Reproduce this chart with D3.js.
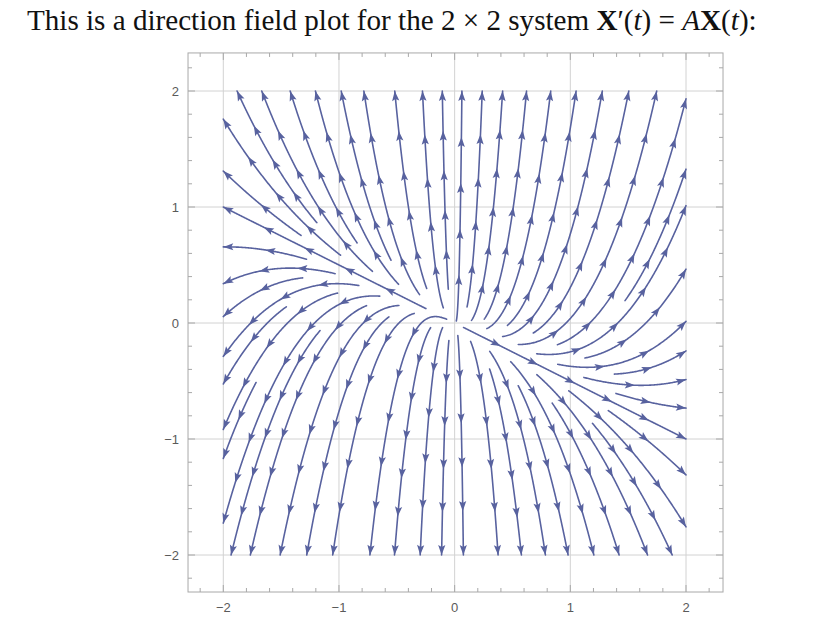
<!DOCTYPE html>
<html><head><meta charset="utf-8">
<script src="https://cdn.jsdelivr.net/npm/d3@7"></script>
<style>body{margin:0;background:#fff}svg{display:block}</style>
</head><body>
<script>
// ---- data ----
const matrixA = [[1, 0], [1, 3]];          // X'(t) = A X(t)
const fieldRange = [-2, 2];                 // region covered by streamlines
const plotRangeX = [-2.305, 2.32];
const plotRangeY = [-2.319, 2.328];
const majorTicks = [-2, -1, 0, 1, 2];
const tickLabels = ["\u22122", "\u22121", "0", "1", "2"];
const minorTicks = [-2.2, -1.8, -1.6, -1.4, -1.2, -0.8, -0.6, -0.4, -0.2, 0.2, 0.4, 0.6, 0.8, 1.2, 1.4, 1.6, 1.8, 2.2];
const initialSeeds = [[0.05, 1.0], [-0.6, -1.0], [1.0, -0.5], [-1.0, 0.5]];

// ---- layout ----
const W = 815, H = 639;
const svg = d3.select("body").append("svg").attr("width", W).attr("height", H);
const x = d3.scaleLinear().domain([-2, 2]).range([223.3, 686]);
const y = d3.scaleLinear().domain([-2, 2]).range([555, 91]);
const fx0 = x(plotRangeX[0]), fx1 = x(plotRangeX[1]);
const fy0 = y(plotRangeY[1]), fy1 = y(plotRangeY[0]);

// ---- title ----
const title = svg.append("text").attr("x", 27).attr("y", 30)
  .attr("font-family", "'Liberation Serif', 'Times New Roman', serif")
  .attr("font-size", 24).attr("fill", "#111");
const parts = [
  ["This is a direction field plot for the 2 \u00d7 2 system ", "normal", "normal"],
  ["X", "bold", "normal"], ["\u2032(", "normal", "normal"], ["t", "normal", "italic"],
  [") = ", "normal", "normal"], ["A", "normal", "italic"], ["X", "bold", "normal"],
  ["(", "normal", "normal"], ["t", "normal", "italic"], ["):", "normal", "normal"]
];
parts.forEach(p => title.append("tspan").text(p[0]).attr("font-weight", p[1]).attr("font-style", p[2]));
const tw = title.node().getComputedTextLength();
title.attr("font-size", 24 * 730 / tw);

// ---- grid lines ----
const gridG = svg.append("g").attr("stroke", "#d2d2d2").attr("stroke-width", 1);
majorTicks.forEach(v => {
  gridG.append("line").attr("x1", x(v)).attr("x2", x(v)).attr("y1", fy0).attr("y2", fy1);
  gridG.append("line").attr("y1", y(v)).attr("y2", y(v)).attr("x1", fx0).attr("x2", fx1);
});

// ---- streamlines ----
const A = matrixA;
const lo = fieldRange[0], hi = fieldRange[1];
const dsep = 0.16, dtest = 0.08, h = 0.008;
const cell = dsep;
const gridMap = new Map();
function cellKey(i, j) { return i + "," + j; }
function addPt(p, id) {
  const k = cellKey(Math.floor((p[0] - lo) / cell), Math.floor((p[1] - lo) / cell));
  if (!gridMap.has(k)) gridMap.set(k, []);
  gridMap.get(k).push([p[0], p[1], id]);
}
function clear(p, d, id) {
  const i0 = Math.floor((p[0] - lo) / cell), j0 = Math.floor((p[1] - lo) / cell);
  const r = Math.ceil(d / cell);
  for (let i = i0 - r; i <= i0 + r; i++) for (let j = j0 - r; j <= j0 + r; j++) {
    const arr = gridMap.get(cellKey(i, j)); if (!arr) continue;
    for (const q of arr) if (q[2] !== id && Math.hypot(q[0] - p[0], q[1] - p[1]) < d) return false;
  }
  return true;
}
function vel(p) { return [A[0][0] * p[0] + A[0][1] * p[1], A[1][0] * p[0] + A[1][1] * p[1]]; }
function ndir(p) { const v = vel(p); const m = Math.hypot(v[0], v[1]); return m < 1e-12 ? null : [v[0] / m, v[1] / m]; }
function rk4(p, s) {
  const k1 = ndir(p); if (!k1) return null;
  const k2 = ndir([p[0] + s * k1[0] / 2, p[1] + s * k1[1] / 2]); if (!k2) return null;
  const k3 = ndir([p[0] + s * k2[0] / 2, p[1] + s * k2[1] / 2]); if (!k3) return null;
  const k4 = ndir([p[0] + s * k3[0], p[1] + s * k3[1]]); if (!k4) return null;
  return [p[0] + s * (k1[0] + 2 * k2[0] + 2 * k3[0] + k4[0]) / 6, p[1] + s * (k1[1] + 2 * k2[1] + 2 * k3[1] + k4[1]) / 6];
}
function inside(p) { return p[0] >= lo && p[0] <= hi && p[1] >= lo && p[1] <= hi; }
function clipSeg(p, q) {
  let t = 1;
  for (let a = 0; a < 2; a++) {
    const d = q[a] - p[a];
    if (q[a] > hi) t = Math.min(t, (hi - p[a]) / d);
    if (q[a] < lo) t = Math.min(t, (lo - p[a]) / d);
  }
  return [p[0] + t * (q[0] - p[0]), p[1] + t * (q[1] - p[1])];
}
function half(seed, sign, id) {
  const pts = []; let p = seed; let prevDir = ndir(seed);
  for (let n = 0; n < 4000; n++) {
    const q = rk4(p, sign * h); if (!q) break;
    if (Math.hypot(q[0], q[1]) < 0.02) break;
    const d = ndir(q); if (!d || (d[0] * prevDir[0] + d[1] * prevDir[1]) < 0.5) break;
    if (!inside(q)) { pts.push(clipSeg(p, q)); break; }
    if (!clear(q, dtest, id)) break;
    pts.push(q); p = q; prevDir = d;
  }
  return pts;
}
const lines = [];
function tryLine(seed) {
  if (!inside(seed) || Math.hypot(seed[0], seed[1]) < 0.05) return null;
  if (!clear(seed, dsep, -1)) return null;
  const id = lines.length;
  const b = half(seed, -1, id), f = half(seed, 1, id);
  const pts = b.reverse().concat([seed], f);
  let L = 0; for (let i = 1; i < pts.length; i++) L += Math.hypot(pts[i][0] - pts[i - 1][0], pts[i][1] - pts[i - 1][1]);
  if (L < 0.12) return null;
  pts.forEach(p => addPt(p, id));
  lines.push(pts);
  return pts;
}
function seedFrom(line) {
  for (let i = 0; i < line.length; i += 4) {
    const p = line[i], d = ndir(p); if (!d) continue;
    for (const s of [1, -1]) {
      const c = [p[0] - s * d[1] * dsep, p[1] + s * d[0] * dsep];
      tryLine(c);
    }
  }
}
initialSeeds.forEach(s => tryLine(s));
let qi = 0;
while (qi < lines.length) { seedFrom(lines[qi]); qi++; }
for (let gx = lo; gx <= hi; gx += 0.05) for (let gy = lo; gy <= hi; gy += 0.05) {
  tryLine([gx, gy]);
  while (qi < lines.length) { seedFrom(lines[qi]); qi++; }
}

// ---- draw streamlines ----
const col = "#58629f";
const sg = svg.append("g");
const lineGen = d3.line().x(d => x(d[0])).y(d => y(d[1]));
lines.forEach(pts => {
  sg.append("path").attr("d", lineGen(pts)).attr("fill", "none")
    .attr("stroke", col).attr("stroke-width", 1.6).attr("stroke-linecap", "round");
  const px = pts.map(p => [x(p[0]), y(p[1])]);
  const cum = [0];
  for (let i = 1; i < px.length; i++) cum.push(cum[i - 1] + Math.hypot(px[i][0] - px[i - 1][0], px[i][1] - px[i - 1][1]));
  const L = cum[cum.length - 1];
  const n = Math.max(1, Math.round(L / 42));
  let j = 1;
  for (let k = 1; k <= n; k++) {
    const target = L * k / n;
    while (j < px.length - 1 && cum[j] < target) j++;
    const a = px[j - 1], b = px[j];
    const seg = cum[j] - cum[j - 1] || 1;
    const t = Math.min(1, (target - cum[j - 1]) / seg);
    const tip = [a[0] + t * (b[0] - a[0]), a[1] + t * (b[1] - a[1])];
    let dx = b[0] - a[0], dy = b[1] - a[1]; const m = Math.hypot(dx, dy) || 1; dx /= m; dy /= m;
    const len = 10, hw = 3.6, notch = 8;
    const bx = tip[0] - dx * len, by = tip[1] - dy * len;
    const nx = tip[0] - dx * notch, ny = tip[1] - dy * notch;
    sg.append("path").attr("d",
      `M${tip[0]},${tip[1]}L${bx - dy * hw},${by + dx * hw}L${nx},${ny}L${bx + dy * hw},${by - dx * hw}Z`)
      .attr("fill", col).attr("stroke", "none");
  }
});

// ---- frame and ticks ----
const fg = svg.append("g").attr("stroke", "#a8a8a8").attr("stroke-width", 1).attr("fill", "none");
fg.append("rect").attr("x", fx0).attr("y", fy0).attr("width", fx1 - fx0).attr("height", fy1 - fy0);
function ticks(vals, len) {
  vals.forEach(v => {
    fg.append("line").attr("x1", x(v)).attr("x2", x(v)).attr("y1", fy1).attr("y2", fy1 - len);
    fg.append("line").attr("x1", x(v)).attr("x2", x(v)).attr("y1", fy0).attr("y2", fy0 + len);
    fg.append("line").attr("y1", y(v)).attr("y2", y(v)).attr("x1", fx0).attr("x2", fx0 + len);
    fg.append("line").attr("y1", y(v)).attr("y2", y(v)).attr("x1", fx1).attr("x2", fx1 - len);
  });
}
ticks(majorTicks, 7);
ticks(minorTicks, 4);
const lg = svg.append("g").attr("font-family", "'Liberation Sans', Arial, sans-serif").attr("font-size", 13).attr("fill", "#5a5a5a");
majorTicks.forEach((v, i) => {
  lg.append("text").attr("x", x(v)).attr("y", fy1 + 20).attr("text-anchor", "middle").text(tickLabels[i]);
  lg.append("text").attr("x", fx0 - 9).attr("y", y(v) + 4.5).attr("text-anchor", "end").text(tickLabels[i]);
});
</script>
</body></html>
